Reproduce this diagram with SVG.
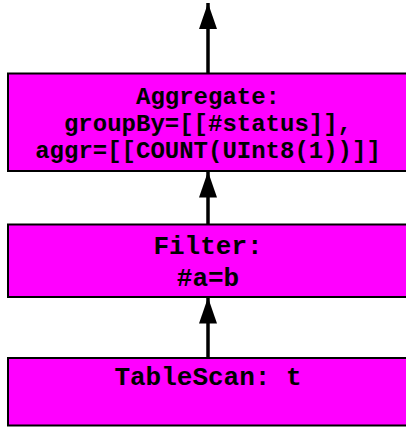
<svg xmlns="http://www.w3.org/2000/svg" width="406" height="427" viewBox="0 0 406 427">
  <style>
    .node rect { fill: #ff00ff; stroke: #000000; stroke-width: 2; }
    .node text { font-family: "Courier New", "Liberation Mono", monospace; font-weight: bold; fill: #000000; text-anchor: middle; }
    .edge line { stroke: #000000; stroke-width: 3.5; }
  </style>
  <defs>
    <!-- filled arrowhead, 26 long and 18 wide, tip at the line end -->
    <marker id="head" markerUnits="userSpaceOnUse" markerWidth="26" markerHeight="18" refX="26" refY="9" orient="auto" viewBox="0 0 26 18">
      <path d="M0,0 L26,9 L0,18 Z" fill="#000000"/>
    </marker>
  </defs>

  <g id="connectors" class="edge">
    <line x1="208" y1="73" x2="208" y2="3" marker-end="url(#head)"/>
    <line x1="208" y1="224" x2="208" y2="171.5" marker-end="url(#head)"/>
    <line x1="208" y1="358" x2="208" y2="297.5" marker-end="url(#head)"/>
  </g>

  <g id="aggregate" class="node">
    <rect x="8" y="73.5" width="400" height="97.5"/>
    <text x="208" y="104" font-size="24">Aggregate:</text>
    <text x="208" y="131" font-size="24">groupBy=[[#status]],</text>
    <text x="208" y="158" font-size="24">aggr=[[COUNT(UInt8(1))]]</text>
  </g>

  <g id="filter" class="node">
    <rect x="8" y="224.5" width="400" height="72.5"/>
    <text x="208" y="254" font-size="26">Filter:</text>
    <text x="208" y="286" font-size="26">#a=b</text>
  </g>

  <g id="tablescan" class="node">
    <rect x="8" y="358" width="400" height="67.5"/>
    <text x="208" y="385" font-size="26">TableScan: t</text>
  </g>
</svg>
